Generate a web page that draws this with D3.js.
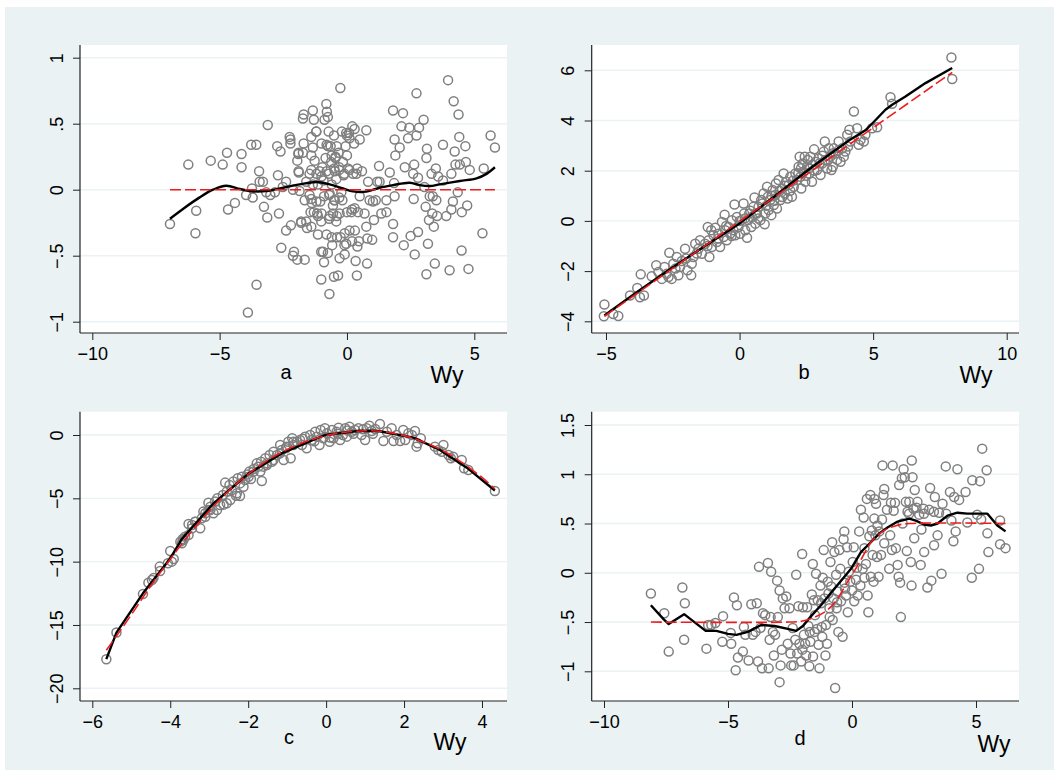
<!DOCTYPE html>
<html><head><meta charset="utf-8">
<script src="https://cdn.jsdelivr.net/npm/d3@7/dist/d3.min.js"></script>
<style>
body{margin:0;background:#fff}
svg{display:block}
text{font-family:"Liberation Sans",Arial,Helvetica,sans-serif;fill:#000}
</style>
</head><body>
<svg id="chart" width="1054" height="773"></svg>
<script>
// ---------------- data ----------------
const subLabels = ["a","b","c","d"];
const xTitle = "Wy";

const xTicksA = [-10,-5,0,5],  xLabA = ["\u221210","\u22125","0","5"];
const yTicksA = [-1,-0.5,0,0.5,1], yLabA = ["\u22121","\u2212.5","0",".5","1"];
const xTicksB = [-5,0,5,10],   xLabB = ["\u22125","0","5","10"];
const yTicksB = [-4,-2,0,2,4,6], yLabB = ["\u22124","\u22122","0","2","4","6"];
const xTicksC = [-6,-4,-2,0,2,4], xLabC = ["\u22126","\u22124","\u22122","0","2","4"];
const yTicksC = [-20,-15,-10,-5,0], yLabC = ["\u221220","\u221215","\u221210","\u22125","0"];
const xTicksD = [-10,-5,0,5],  xLabD = ["\u221210","\u22125","0","5"];
const yTicksD = [-1,-0.5,0,0.5,1,1.5], yLabD = ["\u22121","\u2212.5","0",".5","1","1.5"];

const ptsA = [[-6.95,-0.26],[-6.23,0.19],[-5.92,-0.16],[-5.95,-0.33],[-5.35,0.22],[-4.88,0.19],[-4.71,0.28],[-4.67,-0.15],[-4.40,-0.10],[-4.14,0.27],[-4.14,0.17],[-3.96,-0.04],[-3.73,0.01],[-3.70,-0.06],[-3.76,0.34],[-3.56,0.34],[-3.89,-0.93],[-3.55,-0.72],[-3.45,0.14],[-3.43,0.06],[-3.30,0.06],[-3.26,-0.13],[-3.13,-0.21],[-3.11,0.49],[-3.17,-0.02],[-3.01,-0.04],[-2.83,-0.02],[-2.71,0.11],[-2.74,0.33],[-2.61,0.29],[-2.67,-0.18],[-2.58,-0.44],[-2.52,0.02],[-2.39,0.06],[-2.39,-0.31],[-2.25,0.40],[-2.22,0.38],[-2.22,0.35],[-2.20,-0.27],[-2.12,-0.50],[-2.08,-0.47],[-2.12,0.00],[-1.95,-0.53],[-1.95,0.22],[-1.91,0.27],[-1.89,0.13],[-1.86,-0.01],[-1.80,-0.24],[-1.73,0.28],[-1.66,-0.53],[-1.70,0.35],[-1.73,0.54],[-1.70,0.57],[-1.66,-0.08],[-1.60,0.06],[-1.60,-0.24],[-1.57,-0.29],[-1.47,0.12],[-1.47,-0.04],[-1.40,0.40],[-1.40,0.26],[-1.38,-0.10],[-1.34,0.60],[-1.30,0.53],[-1.34,0.32],[-1.27,0.22],[-1.34,0.04],[-1.43,-0.17],[-1.21,0.44],[-1.14,0.04],[-1.14,-0.34],[-1.17,-0.18],[-1.14,-0.20],[-1.07,0.14],[-1.05,-0.09],[-1.01,-0.24],[-1.01,-0.68],[-1.01,-0.47],[-0.94,-0.47],[-0.97,0.17],[-0.92,0.07],[-0.88,0.53],[-0.84,0.24],[-0.81,0.65],[-0.79,0.59],[-0.75,0.55],[-0.75,0.33],[-0.72,0.44],[-0.71,0.12],[-0.68,-0.03],[-0.75,-0.48],[-0.68,-0.20],[-0.69,-0.79],[-0.64,0.33],[-0.62,0.21],[-0.60,0.04],[-0.58,-0.42],[-0.55,-0.12],[-0.55,-0.18],[-0.51,0.41],[-0.51,-0.66],[-0.48,0.14],[-0.48,-0.08],[-0.45,0.25],[-0.42,0.08],[-0.42,-0.24],[-0.39,-0.36],[-0.35,-0.65],[-0.33,0.28],[-0.31,0.17],[-0.29,-0.52],[-0.29,-0.18],[-0.26,0.77],[-0.25,-0.36],[-0.22,-0.02],[-0.18,-0.08],[-0.16,0.21],[-0.13,0.11],[-0.09,-0.33],[-0.09,-0.49],[-0.05,0.33],[-0.03,0.43],[-0.03,-0.41],[0.00,0.26],[0.04,0.16],[0.08,0.43],[0.10,0.39],[0.17,-0.17],[0.21,0.48],[0.24,0.12],[0.28,0.35],[0.30,-0.14],[0.31,-0.31],[0.34,-0.54],[0.37,0.12],[0.39,-0.65],[0.41,-0.43],[0.43,-0.17],[0.47,-0.39],[0.50,0.38],[0.50,-0.05],[0.59,0.14],[0.69,-0.18],[0.76,0.45],[0.76,-0.28],[0.79,-0.56],[0.80,-0.37],[0.83,0.06],[0.89,-0.08],[0.99,-0.38],[1.02,-0.09],[1.06,-0.23],[1.13,-0.08],[1.19,0.06],[1.26,0.18],[1.28,0.06],[1.35,-0.18],[1.55,-0.17],[1.55,-0.08],[1.68,0.13],[1.81,-0.26],[1.81,0.60],[1.81,-0.36],[1.85,0.05],[1.87,-0.05],[1.87,0.38],[1.90,0.26],[2.07,0.32],[2.14,0.48],[2.20,0.58],[2.23,-0.42],[2.27,0.17],[2.40,0.39],[2.45,0.47],[2.50,-0.35],[2.60,0.12],[2.62,-0.07],[2.66,-0.49],[2.64,0.19],[2.73,0.73],[2.73,0.41],[2.79,0.09],[2.79,-0.32],[2.83,0.47],[3.01,0.53],[3.04,0.02],[3.09,-0.13],[3.12,0.24],[3.12,-0.64],[3.14,0.31],[3.18,-0.41],[3.22,-0.23],[3.25,-0.05],[3.32,0.12],[3.35,-0.18],[3.37,-0.05],[3.41,-0.28],[3.45,-0.56],[3.49,0.16],[3.51,-0.08],[3.54,-0.20],[3.58,0.10],[3.77,0.34],[3.77,0.07],[3.90,-0.20],[3.97,0.83],[4.03,-0.61],[4.10,-0.15],[4.10,0.12],[4.16,-0.09],[4.19,0.67],[4.23,0.29],[4.26,0.19],[4.35,-0.02],[4.38,0.57],[4.41,0.40],[4.43,0.19],[4.50,-0.46],[4.51,-0.17],[4.65,0.33],[4.67,0.21],[4.72,-0.12],[4.77,-0.60],[4.82,0.15],[5.32,-0.33],[5.37,0.16],[5.64,0.41],[5.81,0.32],
[-1.9,0.28],[-1.2,0.44],[-1.0,0.35],[-0.8,0.34],[-0.6,0.26],[-0.45,0.24],[-0.4,0.33],[-0.2,0.44],[0.0,0.41],[0.3,0.46],[-1.9,0.14],[-1.4,0.15],[-1.2,0.12],[-1.0,0.10],[-0.8,0.14],[-0.5,0.16],[-0.3,0.15],[-0.1,0.12],[0.1,0.15],[0.4,0.16],[-1.4,-0.07],[-1.2,-0.09],[-0.9,-0.05],[-0.7,-0.04],[-0.5,-0.08],[-0.3,-0.06],[-1.3,-0.17],[-1.0,-0.18],[-0.7,-0.22],[-0.4,-0.20],[0.0,-0.17],[0.2,-0.15],[-1.8,-0.25],[-1.4,-0.28],[-0.8,-0.34],[-0.6,-0.36],[0.1,-0.31],[-0.1,-0.42],[0.2,-0.39],[-0.9,-0.55]];

const ptsB = [[-5.06,-3.33],[-5.08,-3.80],[-4.73,-3.71],[-4.54,-3.79],[-4.1,-2.97],[-3.83,-2.67],[-3.7,-2.13],[-3.73,-3.04],[-3.58,-2.97],[-3.29,-2.21],[-3.12,-1.77],[-3.04,-2.04],[-2.91,-2.31],[-2.81,-1.84],[-2.73,-2.11],[-2.63,-1.27],[-2.66,-2.24],[-2.54,-2.31],[-2.48,-1.71],[-2.35,-1.44],[-2.29,-2.17],[-2.23,-1.84],[-2.16,-1.60],[-2.04,-1.11],[-1.95,-1.97],[-1.81,-2.17],[-1.79,-1.71],[-1.73,-1.44],[-1.66,-0.91],[-1.54,-1.11],[-1.48,-0.77],[-1.41,-1.31],[-1.29,-0.91],[-1.19,-0.24],[-1.16,-0.77],[-1.13,-1.44],[-1.06,-0.37],[-1.04,-1.04],[-0.98,-0.57],[-0.91,-0.27],[-0.85,-0.84],[-0.79,-0.51],[-0.73,-1.04],[-0.66,-0.04],[-0.6,-0.64],[-0.56,0.25],[-0.54,-0.37],[-0.48,-0.77],[-0.41,-0.24],[-0.35,-0.51],[-0.29,0.03],[-0.23,-0.37],[-0.19,0.65],[-0.16,-0.57],[-0.1,0.16],[-0.04,-0.24],[0.02,-0.51],[0.09,0.03],[0.15,0.69],[0.17,0.29],[0.21,-0.37],[0.28,-0.67],[0.31,0.03],[0.36,0.29],[0.44,-0.24],[0.46,0.16],[0.52,0.56],[0.56,0.93],[0.59,-0.11],[0.65,0.29],[0.71,0.56],[0.78,0.03],[0.81,0.83],[0.86,0.69],[0.9,1.09],[0.94,-0.13],[0.96,0.29],[1.03,1.36],[1.06,0.96],[1.09,0.43],[1.15,0.83],[1.19,0.23],[1.24,1.23],[1.28,0.63],[1.34,1.03],[1.36,1.49],[1.4,0.49],[1.46,1.63],[1.53,0.83],[1.59,1.29],[1.65,1.89],[1.69,1.09],[1.74,1.56],[1.8,0.89],[1.84,1.43],[1.9,1.76],[1.96,0.96],[2.03,1.36],[2.09,1.89],[2.15,1.63],[2.21,2.16],[2.25,2.56],[2.28,1.76],[2.31,1.29],[2.36,2.29],[2.4,1.96],[2.44,2.56],[2.46,1.56],[2.53,2.16],[2.56,2.43],[2.61,1.89],[2.65,2.56],[2.71,1.56],[2.74,2.23],[2.79,2.85],[2.84,2.36],[2.9,2.03],[2.96,2.49],[3.03,1.83],[3.09,2.29],[3.15,2.76],[3.19,3.16],[3.21,2.43],[3.28,2.09],[3.34,2.89],[3.4,2.56],[3.44,2.03],[3.49,2.16],[3.53,2.89],[3.59,2.69],[3.65,2.43],[3.71,3.16],[3.78,2.36],[3.84,2.89],[3.9,2.56],[3.96,2.76],[4.03,3.43],[4.06,2.96],[4.11,3.63],[4.15,3.16],[4.28,4.36],[4.4,3.69],[4.46,3.03],[4.53,3.23],[4.65,3.16],[4.71,3.43],[4.96,3.69],[5.15,3.73],[5.65,4.93],[5.71,4.67],[7.93,6.51],[7.96,5.65],
[-0.8,-0.7],[-0.5,-0.2],[-0.3,-0.6],[0.0,0.0],[0.2,0.1],[0.4,0.4],[0.6,0.3],[0.7,0.1],[1.0,0.6],[1.2,1.0],[1.3,0.8],[1.5,1.2],[1.6,0.95],[1.7,1.4],[1.9,1.2],[2.0,1.6],[2.2,1.9],[2.3,2.1],[2.5,1.8],[2.6,2.1],[2.8,2.0],[3.0,2.3],[3.1,2.6],[3.3,2.4],[3.5,2.7],[3.7,2.8],[-1.6,-1.3],[-2.0,-1.5],[-2.4,-1.9],[-1.2,-1.0]];

const ptsC = [[-5.64,-17.71],[-5.38,-15.6],[-4.7,-12.55],[-4.47,-11.45],[-4.43,-11.3],[-4.56,-11.66],[-4.27,-10.39],[-4.26,-10.74],[-4.0,-9.16],[-3.96,-10.0],[-3.91,-9.79],[-4.06,-10.13],[-3.74,-8.42],[-3.68,-8.21],[-3.62,-8.03],[-3.53,-7.03],[-3.44,-7.37],[-3.36,-6.84],[-3.23,-7.37],[-3.19,-6.58],[-3.15,-6.05],[-3.1,-6.45],[-3.02,-5.34],[-2.97,-5.92],[-2.89,-6.18],[-2.85,-5.26],[-2.79,-5.0],[-2.72,-5.53],[-2.65,-4.74],[-2.59,-3.76],[-2.55,-4.47],[-2.48,-3.95],[-2.42,-4.34],[-2.38,-3.68],[-2.31,-4.79],[-2.27,-3.42],[-2.21,-3.82],[-2.16,-3.29],[-2.08,-3.55],[-2.02,-3.11],[-1.97,-2.89],[-1.93,-3.47],[-1.86,-2.68],[-1.78,-2.24],[-1.74,-2.5],[-1.67,-2.11],[-1.65,-3.63],[-1.61,-2.5],[-1.56,-1.84],[-1.52,-2.37],[-1.45,-1.58],[-1.39,-2.11],[-1.35,-1.32],[-1.26,-1.58],[-1.18,-0.79],[-1.14,-1.18],[-1.09,-1.97],[-1.03,-1.05],[-0.97,-0.53],[-0.91,-1.84],[-0.87,-0.26],[-0.84,-0.79],[-0.75,-0.53],[-0.67,-0.39],[-0.62,-0.79],[-0.54,-0.13],[-0.5,-1.05],[-0.41,0.0],[-0.37,-0.39],[-0.28,0.26],[-0.24,-0.13],[-0.17,-0.79],[-0.14,0.39],[-0.07,-0.26],[-0.03,0.53],[0.02,0.13],[0.09,-0.53],[0.15,0.39],[0.19,-0.26],[0.27,0.26],[0.32,0.58],[0.36,-0.39],[0.43,0.0],[0.49,0.53],[0.53,-0.13],[0.6,0.66],[0.66,0.26],[0.74,0.39],[0.83,0.53],[0.91,0.0],[1.0,-0.39],[1.04,0.53],[1.11,0.74],[1.17,0.32],[1.26,0.47],[1.38,0.87],[1.47,-0.47],[1.56,0.26],[1.68,0.53],[1.73,-0.47],[1.81,0.0],[1.9,-0.47],[1.98,0.39],[2.03,-0.39],[2.11,0.13],[2.2,0.0],[2.28,0.32],[2.32,-0.92],[2.35,-0.66],[2.43,-0.26],[2.79,-0.92],[2.88,-1.18],[2.97,-1.32],[3.01,-0.79],[3.14,-1.58],[3.2,-1.84],[3.26,-1.71],[3.48,-1.97],[3.54,-2.63],[3.65,-2.76],[4.33,-4.42],
[-3.66,-8.29],[-3.7,-8.55],[-3.53,-7.89],[-3.44,-7.1],[-3.36,-6.84],[-3.1,-6.18],[-2.97,-5.66],[-3.02,-5.92],[-2.8,-5.92],[-2.63,-5.5],[-2.55,-5.39],[-2.46,-5.13],[-2.29,-4.6],[-2.21,-4.81],[-2.12,-4.08],[-1.99,-3.29],[-1.86,-2.89],[-1.69,-2.89],[-1.52,-2.24],[-1.35,-1.97],[-1.18,-1.45],[-1.01,-0.92],[-0.84,-0.53],[-0.6,-0.3],[-0.3,-0.5],[0.1,-0.2],[0.3,0.1],[0.55,0.35],[0.7,0.1],[0.95,0.45],[1.2,0.1]];

const ptsD = [[-8.11,-0.21],[-7.57,-0.41],[-7.39,-0.8],[-6.84,-0.15],[-6.74,-0.31],[-6.77,-0.68],[-5.87,-0.77],[-5.8,-0.53],[-5.67,-0.53],[-5.51,-0.51],[-5.2,-0.44],[-5.23,-0.7],[-4.87,-0.72],[-4.89,-0.61],[-4.76,-0.25],[-4.69,-0.99],[-4.64,-0.33],[-4.6,-0.86],[-4.4,-0.8],[-4.36,-0.55],[-4.3,-0.63],[-4.17,-0.89],[-4.06,-0.32],[-4.0,-0.63],[-3.89,-0.6],[-3.84,-0.31],[-3.79,-0.9],[-3.75,0.06],[-3.69,-0.56],[-3.63,-0.97],[-3.59,-0.41],[-3.5,-0.43],[-3.39,0.1],[-3.36,-0.97],[-3.32,-0.68],[-3.28,-0.45],[-3.26,0.01],[-3.19,-0.6],[-3.15,-0.84],[-3.1,-0.63],[-3.02,-0.08],[-2.99,-0.45],[-2.92,-1.11],[-2.92,-0.18],[-2.88,-0.94],[-2.83,-0.78],[-2.79,-0.26],[-2.72,-0.36],[-2.65,-0.24],[-2.59,-0.72],[-2.52,-0.36],[-2.48,-0.82],[-2.45,-0.94],[-2.39,-0.56],[-2.35,-0.94],[-2.29,-0.68],[-2.25,-0.02],[-2.21,-0.82],[-2.16,-0.34],[-2.12,-0.72],[-2.05,-0.9],[-2.01,0.19],[-1.98,-0.35],[-1.94,-0.63],[-1.89,-0.72],[-1.85,-0.84],[-1.81,-0.35],[-1.76,-0.54],[-1.72,-0.95],[-1.68,-0.7],[-1.62,-0.22],[-1.58,0.09],[-1.57,-0.85],[-1.54,-0.28],[-1.51,-0.6],[-1.49,-0.43],[-1.45,-0.01],[-1.41,-0.57],[-1.38,-0.28],[-1.35,-0.73],[-1.31,-0.97],[-1.27,-0.13],[-1.25,-0.31],[-1.22,-0.55],[-1.18,-0.05],[-1.14,0.23],[-1.11,-0.26],[-1.07,-0.84],[-1.05,-0.53],[-1.01,-0.72],[-0.98,-0.09],[-0.95,-0.21],[-0.91,-0.36],[-0.87,0.11],[-0.84,-0.14],[-0.8,0.31],[-0.78,-0.48],[-0.74,-0.26],[-0.71,0.21],[-0.68,-1.17],[-0.64,-0.02],[-0.62,-0.36],[-0.58,-0.19],[-0.55,-0.6],[-0.51,0.23],[-0.47,0.04],[-0.44,-0.29],[-0.38,-0.65],[-0.34,0.34],[-0.31,0.42],[-0.28,-0.16],[-0.24,-0.23],[-0.2,0.26],[-0.17,-0.4],[-0.13,0.01],[-0.07,-0.09],[0.0,-0.18],[0.03,0.11],[0.07,0.26],[0.09,-0.29],[0.16,-0.07],[0.23,-0.23],[0.29,0.42],[0.34,-0.13],[0.36,0.64],[0.43,0.04],[0.47,0.56],[0.5,0.25],[0.56,0.09],[0.6,0.75],[0.63,-0.23],[0.66,-0.4],[0.7,0.37],[0.74,0.79],[0.76,-0.04],[0.8,0.43],[0.83,0.18],[0.87,-0.09],[0.9,0.75],[0.94,0.38],[0.97,0.7],[1.01,0.16],[1.03,0.48],[1.07,-0.04],[1.1,0.42],[1.17,0.18],[1.21,0.54],[1.23,1.09],[1.27,0.79],[1.3,0.85],[1.41,0.64],[1.5,0.04],[1.54,0.38],[1.57,0.71],[1.61,0.23],[1.64,1.09],[1.68,0.63],[1.73,0.71],[1.77,0.25],[1.84,0.08],[1.88,-0.04],[1.9,0.89],[1.94,-0.1],[1.97,-0.45],[2.01,0.96],[2.04,0.5],[2.08,1.05],[2.13,0.97],[2.17,0.72],[2.21,0.22],[2.24,0.62],[2.31,0.72],[2.37,0.11],[2.4,-0.13],[2.41,1.14],[2.44,0.97],[2.48,0.65],[2.51,0.35],[2.53,0.84],[2.64,0.72],[2.71,0.59],[2.77,0.08],[2.8,0.44],[2.88,0.65],[2.91,0.21],[3.04,-0.15],[3.11,0.64],[3.15,0.86],[3.2,-0.08],[3.31,0.28],[3.34,0.77],[3.45,0.38],[3.51,0.61],[3.61,-0.01],[3.65,0.7],[3.78,1.08],[3.95,0.82],[4.01,0.53],[4.09,0.32],[4.12,0.77],[4.18,0.42],[4.25,1.05],[4.32,0.74],[4.58,0.82],[4.65,0.51],[4.83,-0.05],[4.85,0.94],[5.05,0.59],[5.12,0.04],[5.16,0.93],[5.21,0.54],[5.25,1.26],[5.43,1.04],[5.46,0.4],[5.5,0.21],[5.97,0.53],[5.97,0.29],[6.19,0.25],
[-0.9,-0.45],[-0.6,-0.3],[-0.3,-0.1],[0.2,0.05],[0.5,-0.05],[-1.2,-0.65],[-1.7,-0.6],[-2.0,-0.78],[0.9,0.55],[1.3,0.3],[2.3,0.6],[2.6,0.66],[2.9,0.6],[3.3,0.62],[3.8,0.6]];

const lowA = [[-6.95,-0.22],[-6.4,-0.14],[-5.8,-0.06],[-5.26,0.0],[-4.74,0.03],[-4.2,0.005],[-3.7,-0.012],[-3.17,-0.01],[-2.5,0.015],[-1.86,0.04],[-1.2,0.058],[-0.68,0.04],[-0.16,0.01],[0.24,-0.013],[0.76,-0.015],[1.28,0.015],[1.81,0.035],[2.46,0.053],[2.86,0.035],[3.25,0.028],[3.64,0.04],[4.43,0.066],[5.09,0.086],[5.48,0.12],[5.81,0.17]];
const redA = [[-6.95,0],[5.81,0]];
const lowB = [[-5.06,-3.77],[-4.54,-3.37],[-3.85,-2.84],[-2.54,-1.88],[-1.27,-0.98],[0,-0.1],[1.34,1.0],[2.71,2.15],[4.09,3.2],[4.7,3.6],[5.03,3.95],[5.46,4.43],[5.71,4.63],[6.21,4.96],[6.96,5.49],[7.96,6.09]];
const redB = [[-5.06,-3.8],[7.96,5.92]];
const lowC = [[-5.64,-17.7],[-5.38,-15.6],[-4.7,-12.5],[-4.0,-9.75],[-3.7,-8.2],[-2.89,-5.4],[-1.99,-3.05],[-1.14,-1.45],[-0.03,0.0],[0.87,0.34],[1.34,0.32],[2.24,-0.21],[2.92,-1.18],[3.61,-2.58],[4.33,-4.38]];
const redC = [[-5.64,-17.0],[-5.0,-14.2],[-4.5,-11.9],[-4.0,-9.8],[-3.5,-7.8],[-3.0,-6.0],[-2.5,-4.4],[-2.0,-3.1],[-1.5,-2.0],[-1.0,-1.15],[-0.5,-0.5],[0,-0.05],[0.5,0.22],[1.0,0.33],[1.4,0.3],[2.0,-0.05],[2.5,-0.55],[3.0,-1.25],[3.5,-2.2],[4.0,-3.35],[4.33,-4.25]];
const lowD = [[-8.11,-0.33],[-7.6,-0.47],[-7.39,-0.52],[-6.77,-0.42],[-5.9,-0.59],[-5.47,-0.59],[-5.0,-0.62],[-4.66,-0.63],[-4.2,-0.6],[-3.66,-0.53],[-3.12,-0.54],[-2.59,-0.57],[-2.25,-0.59],[-1.98,-0.54],[-1.65,-0.44],[-1.25,-0.33],[-0.84,-0.2],[-0.44,-0.08],[-0.04,0.04],[0.36,0.21],[0.76,0.31],[1.1,0.4],[1.43,0.46],[1.84,0.52],[2.31,0.55],[2.57,0.53],[2.91,0.49],[3.18,0.48],[3.45,0.5],[3.85,0.58],[4.25,0.61],[4.65,0.6],[5.05,0.6],[5.46,0.6],[5.86,0.48],[6.19,0.42]];
const redD = [[-8.11,-0.5],[-2.5,-0.5],[-2.0,-0.49],[-1.5,-0.45],[-1.0,-0.38],[-0.6,-0.27],[-0.2,-0.1],[0.1,0.02],[0.4,0.15],[0.8,0.32],[1.3,0.43],[1.8,0.48],[2.3,0.5],[6.19,0.5]];

// ---------------- layout ----------------
const panels = [
  {pts:ptsA, low:lowA, red:redA, xt:xTicksA, xl:xLabA, yt:yTicksA, yl:yLabA, sub:subLabels[0],
   box:[80,45,507,333], xd:[-10,5], xr:[92.3,474.3], yd:[-1,1], yr:[321.7,57.7], subX:286, wyX:447, subY:379, wyY:383, lowCurve:d3.curveCatmullRom, redCurve:d3.curveLinear},
  {pts:ptsB, low:lowB, red:redB, xt:xTicksB, xl:xLabB, yt:yTicksB, yl:yLabB, sub:subLabels[1],
   box:[591.7,45,1019,333], xd:[-5,10], xr:[606,1006.7], yd:[-4,6], yr:[321.3,70.3], subX:804, wyX:976, subY:379, wyY:383, lowCurve:d3.curveLinear, redCurve:d3.curveLinear},
  {pts:ptsC, low:lowC, red:redC, xt:xTicksC, xl:xLabC, yt:yTicksC, yl:yLabC, sub:subLabels[2],
   box:[80,411.7,507,701], xd:[-6,4], xr:[92.3,482], yd:[-20,0], yr:[688.3,435], subX:289, wyX:450, subY:744, wyY:750, lowCurve:d3.curveLinear, redCurve:d3.curveCatmullRom},
  {pts:ptsD, low:lowD, red:redD, xt:xTicksD, xl:xLabD, yt:yTicksD, yl:yLabD, sub:subLabels[3],
   box:[591.7,411.7,1019,701], xd:[-10,5], xr:[604,976], yd:[-1,1.5], yr:[671.3,425], subX:800, wyX:994, subY:745, wyY:752, lowCurve:d3.curveLinear, redCurve:d3.curveCatmullRom}
];

const svg = d3.select("#chart");
svg.append("rect").attr("x",5).attr("y",7).attr("width",1049).attr("height",763).attr("fill","#eaf2f3");

const GRID = "#eaf2f3", PT = "#7f7f7f", RED = "#ee1c1c";

panels.forEach(p => {
  const [x0,y0,x1,y1] = p.box;
  const x = d3.scaleLinear().domain(p.xd).range(p.xr);
  const y = d3.scaleLinear().domain(p.yd).range(p.yr);
  const g = svg.append("g");
  g.append("rect").attr("x",x0).attr("y",y0).attr("width",x1-x0).attr("height",y1-y0).attr("fill","#fff");
  // grid
  g.selectAll(".grid").data(p.yt).join("line")
    .attr("x1",x0).attr("x2",x1).attr("y1",d=>y(d)).attr("y2",d=>y(d))
    .attr("stroke",GRID).attr("stroke-width",1.4);
  // points
  g.selectAll(".pt").data(p.pts).join("circle")
    .attr("cx",d=>x(d[0])).attr("cy",d=>y(d[1])).attr("r",4.5)
    .attr("fill","none").attr("stroke",PT).attr("stroke-width",1.5);
  // lines
  const line = c => d3.line().x(d=>x(d[0])).y(d=>y(d[1])).curve(c);
  g.append("path").attr("d",line(p.lowCurve)(p.low)).attr("fill","none")
    .attr("stroke","#000").attr("stroke-width",2.4).attr("stroke-linejoin","round");
  g.append("path").attr("d",line(p.redCurve)(p.red)).attr("fill","none")
    .attr("stroke",RED).attr("stroke-width",1.6).attr("stroke-dasharray","11,4");
  // axes
  const ya = g.append("g").attr("transform",`translate(${x0},0)`)
    .call(d3.axisLeft(y).tickValues(p.yt).tickFormat((d,i)=>p.yl[i]).tickSize(7).tickSizeOuter(0));
  ya.select(".domain").remove();
  ya.selectAll("line").attr("stroke","#222").attr("stroke-width",1);
  ya.selectAll("text").attr("transform","rotate(-90)").attr("x",0).attr("y",-17.5).attr("dy",0)
    .attr("text-anchor","middle").style("font-size","18px").style("font-family",'"Liberation Sans",Arial,sans-serif');
  const xa = g.append("g").attr("transform",`translate(0,${y1})`)
    .call(d3.axisBottom(x).tickValues(p.xt).tickFormat((d,i)=>p.xl[i]).tickSize(7).tickSizeOuter(0));
  xa.select(".domain").remove();
  xa.selectAll("line").attr("stroke","#222").attr("stroke-width",1);
  xa.selectAll("text").attr("y",27).attr("dy",0)
    .style("font-size","18px").style("font-family",'"Liberation Sans",Arial,sans-serif');
  // axis lines
  g.append("line").attr("x1",x0).attr("x2",x0).attr("y1",y0).attr("y2",y1).attr("stroke","#222").attr("stroke-width",1.2);
  g.append("line").attr("x1",x0).attr("x2",x1).attr("y1",y1).attr("y2",y1).attr("stroke","#222").attr("stroke-width",1.2);
  // titles
  g.append("text").attr("x",p.subX).attr("y",p.subY).attr("text-anchor","middle").style("font-size","20px").text(p.sub);
  g.append("text").attr("x",p.wyX).attr("y",p.wyY).attr("text-anchor","middle").style("font-size","23px").text(xTitle);
});
</script>
</body></html>
